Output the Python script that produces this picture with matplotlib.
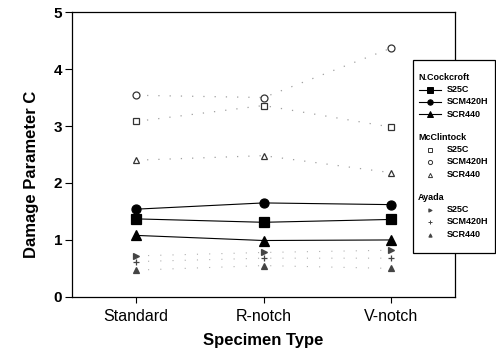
import matplotlib
matplotlib.use("Agg")
import matplotlib.pyplot as plt
from matplotlib.lines import Line2D
from matplotlib.patches import Rectangle

plt.rcParams['font.family'] = ['Liberation Sans', 'DejaVu Sans']

categories = ['Standard', 'R-notch', 'V-notch']
materials = ['S25C', 'SCM420H', 'SCR440']

# N.Cockcroft
cockcroft_s25c = [1.37, 1.31, 1.36]
cockcroft_scm420h = [1.54, 1.65, 1.62]
cockcroft_scr440 = [1.08, 0.99, 1.00]

# McClintock
mcclintock_s25c = [3.08, 3.36, 2.98]
mcclintock_scm420h = [3.54, 3.50, 4.37]
mcclintock_scr440 = [2.40, 2.48, 2.18]

# Ayada
ayada_s25c = [0.72, 0.78, 0.82]
ayada_scm420h = [0.62, 0.68, 0.68]
ayada_scr440 = [0.47, 0.55, 0.50]

x = [1, 2, 3]
markers = ['s', 'o', '^']
ayada_markers = ['>', '+', '^']

fig = plt.figure(figsize=(4.96, 3.56), dpi=100)
ax = fig.add_axes([0.145, 0.166, 0.773, 0.800])

groups = [
    ('N.Cockcroft', [cockcroft_s25c, cockcroft_scm420h, cockcroft_scr440]),
    ('McClintock', [mcclintock_s25c, mcclintock_scm420h, mcclintock_scr440]),
    ('Ayada', [ayada_s25c, ayada_scm420h, ayada_scr440]),
]

styles = {
    'N.Cockcroft': dict(color='black', lw=0.8, ls='-', mfc='black', mec='black', ms=6.5),
    'McClintock': dict(color='#a0a0a0', lw=0.9, ls=(0, (1, 8)), mfc='white', mec='#333333', ms=5),
    'Ayada': dict(color='#b0b0b0', lw=0.8, ls=(0, (1, 10)), mfc='#444444', mec='#444444', ms=4),
}

for name, series in groups:
    st = styles[name]
    for i, vals in enumerate(series):
        mk = ayada_markers[i] if name == 'Ayada' else markers[i]
        ax.plot(x, vals, marker=mk, color=st['color'], lw=st['lw'], ls=st['ls'],
                mfc=st['mfc'], mec=st['mec'], ms=st['ms'], mew=0.9, zorder=3)

ax.set_xlim(0.5, 3.5)
ax.set_ylim(0, 5)
ax.set_xticks(x)
ax.set_xticklabels(categories, fontsize=11.5)
ax.set_yticks([0, 1, 2, 3, 4, 5])
ax.tick_params(axis='y', labelsize=11, length=5, width=0.8, pad=2)
ax.tick_params(axis='x', length=4, width=0.8, pad=5)
for lab in ax.get_yticklabels():
    lab.set_fontweight('bold')
ax.set_xlabel('Specimen Type', fontsize=12, fontweight='bold', labelpad=6)
ax.set_ylabel('Damage Parameter C', fontsize=12, fontweight='bold')
ax.yaxis.set_label_coords(-0.085, 0.43)
for sp in ax.spines.values():
    sp.set_linewidth(0.9)

# legend box drawn by hand so the group headings sit flush left
W, H = 496.0, 356.0
def fx(px):
    return px / W
def fy(py):
    return 1 - py / H

box = Rectangle((fx(413), fy(253)), fx(495) - fx(413), fy(60) - fy(253),
                transform=fig.transFigure, facecolor='white', edgecolor='black',
                lw=0.9, zorder=10)
fig.patches.append(box)

row = 12.5
y0 = 77
for gi, (name, series) in enumerate(groups):
    st = styles[name]
    fig.text(fx(418), fy(y0), name, fontsize=6.5, fontweight='bold',
             va='center', ha='left', zorder=11)
    for i in range(3):
        yy = fy(y0 + row * (i + 1))
        mk = ayada_markers[i] if name == 'Ayada' else markers[i]
        ls = '-' if name == 'N.Cockcroft' else 'none'
        fig.lines.append(Line2D([fx(419), fx(441)], [yy, yy], transform=fig.transFigure,
                                color=st['color'], lw=0.8, ls=ls, zorder=11))
        fig.lines.append(Line2D([fx(430)], [yy], transform=fig.transFigure,
                                marker=mk, ms=st['ms'] * 0.6, mfc=st['mfc'], mec=st['mec'],
                                mew=0.7, ls='none', zorder=12))
        fig.text(fx(447), yy, materials[i], fontsize=6.5, fontweight='bold',
                 va='center', ha='left', zorder=11)
    y0 += row * 4 + 10

fig.savefig('out.png', dpi=100)
